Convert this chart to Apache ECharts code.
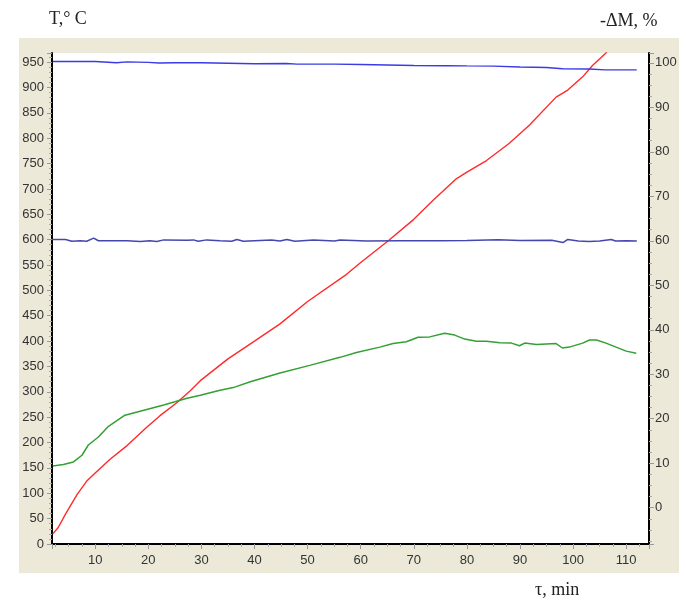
<!DOCTYPE html>
<html>
<head>
<meta charset="utf-8">
<script src="https://cdn.jsdelivr.net/npm/echarts@6/dist/echarts.min.js"></script>
<style>
  html, body { margin: 0; padding: 0; background: #fff; }
  #chart { width: 686px; height: 600px; }
</style>
</head>
<body>
<div id="chart"></div>
<script>
// температура, левая ось
const redTime = [2, 3, 4.4, 6.6, 8.4, 10, 12.8, 16, 19.7, 22.2, 25.3, 27.9, 29.8, 35, 40, 44.8, 50, 57, 60, 65.2, 70, 73.6, 78, 80, 83.7, 88, 91.8, 96.8, 99, 101.8, 103.7, 106.2, 107.5]
const redTemp = [20, 32, 59, 98, 124, 140, 167, 194, 230, 253, 278, 302, 322, 365, 400, 434, 478, 529, 555, 598, 640, 677, 720, 733, 756, 790, 826, 881, 895, 921, 944, 968, 990]

// зелёная кривая, правая ось
const greenTime = [2, 4, 5.9, 7.5, 8.7, 10.6, 12.5, 15.6, 19.7, 22.9, 25, 27.3, 29.8, 33.5, 36, 39.2, 44.8, 50.4, 56.1, 59.2, 63.6, 66.1, 68.6, 70.8, 73, 75.8, 77.7, 79.6, 81.8, 83.7, 86.2, 88.4, 89.9, 90.9, 93.1, 96.8, 98, 99.3, 101.8, 103.1, 104.4, 106.2, 108.1, 110, 111.9]
const greenVal = [9.4, 9.7, 10.3, 11.8, 14.1, 15.9, 18.3, 20.8, 22.1, 23.1, 23.8, 24.6, 25.3, 26.4, 27.0, 28.3, 30.3, 32.0, 33.8, 34.9, 36.1, 36.9, 37.3, 38.3, 38.4, 39.2, 38.8, 37.9, 37.4, 37.4, 37.1, 37.0, 36.4, 37.0, 36.7, 36.9, 35.9, 36.1, 37.0, 37.7, 37.7, 37.0, 36.1, 35.2, 34.7]

// верхняя синяя кривая
const blueTopTime = [2, 10, 14, 16, 20, 22, 25, 30, 35, 40, 46, 48, 55, 60, 65, 70, 76, 80, 85, 90, 95, 98, 103, 106, 112]
const blueTopVal = [100.3, 100.3, 100.0, 100.2, 100.1, 99.95, 100.0, 100.0, 99.9, 99.8, 99.85, 99.7, 99.7, 99.6, 99.5, 99.4, 99.35, 99.3, 99.25, 99.05, 98.95, 98.65, 98.6, 98.4, 98.4]

// нижняя синяя кривая
const blueLowTime = [1.9, 4.4, 5.6, 7.2, 8.4, 9.7, 10.6, 16, 18.5, 20.3, 21.6, 22.9, 27.3, 28.5, 29.4, 31, 33.5, 35.7, 36.7, 37.9, 43.2, 44.8, 46.1, 47.6, 51.1, 55.1, 56.1, 61.1, 67.4, 74.9, 80, 85.9, 90, 96, 98.1, 99, 101, 103, 105, 107.2, 108, 110, 112]
const blueLowVal = [60.3, 60.3, 59.9, 60.0, 59.9, 60.6, 60.0, 60.0, 59.85, 60.0, 59.85, 60.2, 60.1, 60.2, 59.9, 60.2, 60.0, 59.9, 60.3, 59.9, 60.15, 59.95, 60.3, 59.9, 60.15, 59.95, 60.15, 59.95, 60.0, 60.0, 60.05, 60.25, 60.05, 60.1, 59.6, 60.3, 59.95, 59.85, 59.95, 60.3, 59.95, 60.0, 59.95]

const xTicks = [10, 20, 30, 40, 50, 60, 70, 80, 90, 100, 110]

const pairs = function (xs, ys) {
  return xs.map((x, i) => [x, ys[i]])
}

const labelFont = {
  color: '#333',
  fontFamily: 'Liberation Sans, Arial, sans-serif',
  fontSize: 13,
}
const serifTitle = {
  fill: '#222',
  fontFamily: 'Liberation Serif, Times New Roman, serif',
  fontSize: 18,
}

const chart = echarts.init(document.getElementById('chart'))
chart.setOption({
  animation: false,
  backgroundColor: '#fff',
  graphic: [
    {type: 'rect', z: -10, silent: true, shape: {x: 19, y: 38, width: 660, height: 535}, style: {fill: '#ECE9D8'}},
    {type: 'text', left: 49, top: 10, style: {...serifTitle, text: 'T,° C'}},
    {type: 'text', left: 600, top: 12, style: {...serifTitle, text: '-ΔM, %'}},
    {type: 'text', left: 535, top: 581, style: {...serifTitle, text: 'τ, min'}},
  ],
  grid: {
    left: 52, right: 37, top: 53, bottom: 56,
    show: true, backgroundColor: '#fff', borderWidth: 0,
    containLabel: false,
  },
  xAxis: {
    type: 'value',
    min: 1.86,
    max: 114.3,
    splitNumber: 11,
    axisLine: {lineStyle: {color: '#000', width: 2}},
    axisTick: {show: true, length: 5, lineStyle: {color: '#999'}},
    minorTick: {show: true, splitNumber: 4, length: 3, lineStyle: {color: '#aaa'}},
    splitLine: {show: false},
    axisLabel: {
      ...labelFont,
      margin: 10,
      showMinLabel: false,
      showMaxLabel: false,
      formatter: v => xTicks.indexOf(Math.round(v * 1000) / 1000) >= 0 ? String(v) : '',
    },
  },
  yAxis: [
    {
      type: 'value',
      position: 'left',
      min: 0,
      max: 968,
      interval: 50,
      axisLine: {show: true, lineStyle: {color: '#000', width: 2}},
      axisTick: {show: true, length: 5, lineStyle: {color: '#999'}},
      minorTick: {show: true, splitNumber: 5, length: 3, lineStyle: {color: '#aaa'}},
      splitLine: {show: false},
      axisLabel: {
        ...labelFont,
        margin: 8,
        formatter: v => v % 50 === 0 ? String(v) : '',
      },
    },
    {
      type: 'value',
      position: 'right',
      min: -8.15,
      max: 102.2,
      splitNumber: 11,
      axisLine: {show: true, lineStyle: {color: '#000', width: 2}},
      axisTick: {show: true, length: 5, lineStyle: {color: '#999'}},
      minorTick: {show: true, splitNumber: 4, length: 3, lineStyle: {color: '#aaa'}},
      splitLine: {show: false},
      axisLabel: {
        ...labelFont,
        margin: 6,
        formatter: v => Math.abs(v % 10) < 1e-6 ? String(Math.round(v)) : '',
      },
    },
  ],
  series: [
    {
      name: 'T',
      type: 'line',
      yAxisIndex: 0,
      showSymbol: false,
      data: pairs(redTime, redTemp),
      lineStyle: {color: '#ff2a2a', width: 1.4},
    },
    {
      name: 'green',
      type: 'line',
      yAxisIndex: 1,
      showSymbol: false,
      data: pairs(greenTime, greenVal),
      lineStyle: {color: '#33a033', width: 1.5},
    },
    {
      name: 'blueTop',
      type: 'line',
      yAxisIndex: 1,
      showSymbol: false,
      data: pairs(blueTopTime, blueTopVal),
      lineStyle: {color: '#3a3ae6', width: 1.4},
    },
    {
      name: 'blueLow',
      type: 'line',
      yAxisIndex: 1,
      showSymbol: false,
      data: pairs(blueLowTime, blueLowVal),
      lineStyle: {color: '#4646b0', width: 1.5},
    },
  ],
})
</script>
</body>
</html>
